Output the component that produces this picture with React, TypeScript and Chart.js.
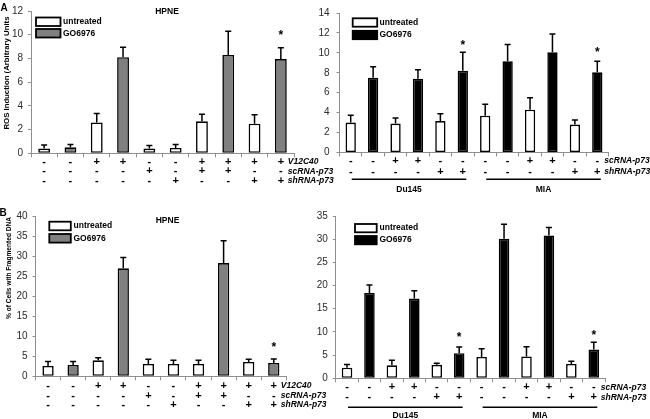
import React, { useEffect, useRef } from 'react';
import { Chart, registerables } from 'chart.js';

Chart.register(...registerables);

// ---------- Panel A (left): HPNE, ROS induction ----------
const hpneTreatment = ['untreated', 'GO6976', 'untreated', 'GO6976', 'untreated', 'untreated', 'untreated', 'GO6976', 'untreated', 'GO6976'];
const hpneRos = [0.4, 0.5, 2.6, 8.1, 0.4, 0.45, 2.7, 8.3, 2.5, 7.95];
const hpneRosErr = [0.3, 0.25, 0.75, 0.85, 0.25, 0.3, 0.6, 2.0, 0.75, 0.95];
const hpneRosStar: (number | null)[] = [null, null, null, null, null, null, null, null, null, 10.2];
const hpneV12C40 = ['-', '-', '+', '+', '-', '-', '+', '+', '+', '+'];
const hpneScRNA = ['-', '-', '-', '-', '+', '-', '+', '+', '-', '-'];
const hpneShRNA = ['-', '-', '-', '-', '-', '+', '-', '-', '+', '+'];

// ---------- Panel A (right): Du145 / MIA, ROS induction ----------
const cancerTreatment = ['untreated', 'GO6976', 'untreated', 'GO6976', 'untreated', 'GO6976', 'untreated', 'GO6976', 'untreated', 'GO6976', 'untreated', 'GO6976'];
const cancerRos = [3.0, 7.5, 2.9, 7.4, 3.15, 8.2, 3.7, 9.15, 4.3, 10.05, 2.8, 8.05];
const cancerRosErr = [0.75, 1.1, 0.55, 0.9, 0.75, 1.85, 1.15, 1.7, 1.2, 1.85, 0.45, 1.1];
const cancerRosStar: (number | null)[] = [null, null, null, null, null, 11.1, null, null, null, null, null, 10.4];
const cancerScRNA = ['-', '-', '+', '+', '-', '-', '-', '-', '+', '+', '-', '-'];
const cancerShRNA = ['-', '-', '-', '-', '+', '+', '-', '-', '-', '-', '+', '+'];
const cellLines = ['Du145', 'MIA'];
const cellLineFirst = [0, 6];
const cellLineLast = [5, 11];

// ---------- Panel B (left): HPNE, fragmented DNA ----------
const hpneDna = [2.6, 2.85, 4.0, 27.0, 3.1, 3.1, 3.1, 28.3, 3.6, 3.35];
const hpneDnaErr = [1.1, 0.85, 0.65, 2.7, 1.15, 0.9, 0.9, 5.6, 0.65, 1.0];
const hpneDnaStar: (number | null)[] = [null, null, null, null, null, null, null, null, null, 8.0];

// ---------- Panel B (right): Du145 / MIA, fragmented DNA ----------
const cancerDna = [2.3, 18.4, 2.8, 17.2, 2.9, 5.4, 4.6, 30.1, 4.7, 30.8, 3.1, 6.2];
const cancerDnaErr = [0.7, 1.7, 1.1, 1.7, 0.35, 1.35, 1.75, 3.1, 2.1, 1.7, 0.6, 1.6];
const cancerDnaStar: (number | null)[] = [null, null, null, null, null, 9.5, null, null, null, null, null, 10.0];

const FONT = '"Liberation Sans", Arial, sans-serif';
const AXIS = '#8f8f8f';

interface PanelSpec {
  left: number; top: number; width: number; height: number;
  area: { left: number; right: number; top: number; bottom: number };
  yMax: number; yStep: number; tickPad: number;
  values: number[]; errors: number[]; stars: (number | null)[];
  treatment: string[]; goColor: string; barPct: number;
  rows: { label: string; signs: string[]; dy: number }[];
  groups?: { label: string; from: number; to: number }[];
  groupLineDy?: number; groupLabelDy?: number;
  legend: { x: number; y1: number; y2: number; w: number; h: number; tx: number };
  letter?: { text: string; x: number; y: number };
  title?: { text: string; x: number; y: number };
  axisTitle?: { text: string; x: number; y: number; size: number; len: number };
}

const bold = (px: number) => `bold ${px}px ${FONT}`;

function decor(s: PanelSpec) {
  return {
    id: 'decor',
    afterDatasetsDraw(chart: any) {
      const ctx = chart.ctx as CanvasRenderingContext2D;
      const ys = chart.scales.y;
      ctx.save();
      ctx.strokeStyle = '#000';
      ctx.lineWidth = 1.5;
      chart.data.datasets.forEach((ds: any, di: number) => {
        const meta = chart.getDatasetMeta(di);
        ds.data.forEach((v: number | null, i: number) => {
          if (v == null) return;
          const el = meta.data[i];
          const top = ys.getPixelForValue(v + s.errors[i]);
          ctx.beginPath();
          ctx.moveTo(el.x, el.y);
          ctx.lineTo(el.x, top);
          ctx.moveTo(el.x - 3, top);
          ctx.lineTo(el.x + 3, top);
          ctx.stroke();
        });
      });
      ctx.restore();
    },
    afterDraw(chart: any) {
      const ctx = chart.ctx as CanvasRenderingContext2D;
      const area = chart.chartArea;
      const xs = chart.scales.x;
      const ys = chart.scales.y;
      ctx.save();
      ctx.fillStyle = '#000';
      ctx.textBaseline = 'middle';
      if (s.letter) {
        ctx.font = bold(10);
        ctx.textAlign = 'center';
        ctx.fillText(s.letter.text, s.letter.x, s.letter.y);
      }
      if (s.title) {
        ctx.font = bold(8.5);
        ctx.textAlign = 'center';
        ctx.fillText(s.title.text, s.title.x, s.title.y);
      }
      if (s.axisTitle) {
        const t = s.axisTitle;
        ctx.save();
        ctx.translate(t.x, t.y);
        ctx.rotate(-Math.PI / 2);
        ctx.font = bold(t.size);
        const w = ctx.measureText(t.text).width;
        ctx.scale(t.len / w, 1);
        ctx.textAlign = 'center';
        ctx.fillText(t.text, 0, 0);
        ctx.restore();
      }
      // legend
      const L = s.legend;
      chart.data.datasets.forEach((ds: any, di: number) => {
        const by = di === 0 ? L.y1 : L.y2;
        ctx.fillStyle = ds.backgroundColor;
        ctx.fillRect(L.x, by, L.w, L.h);
        ctx.strokeStyle = '#000';
        ctx.lineWidth = 1.8;
        ctx.strokeRect(L.x, by, L.w, L.h);
        ctx.fillStyle = '#000';
        ctx.font = bold(8.5);
        ctx.textAlign = 'left';
        ctx.fillText(ds.label, L.tx, by + L.h / 2);
      });
      // sign table
      const n = s.values.length;
      s.rows.forEach((r) => {
        const yy = area.bottom + r.dy;
        ctx.font = bold(11);
        ctx.textAlign = 'center';
        r.signs.forEach((sg, i) => ctx.fillText(sg, xs.getPixelForValue(i), yy));
        ctx.font = `italic bold 8.5px ${FONT}`;
        ctx.textAlign = 'left';
        ctx.fillText(r.label, xs.getPixelForValue(n - 1) + 7, yy);
      });
      // cell-line groups
      if (s.groups) {
        s.groups.forEach((g) => {
          const x1 = xs.getPixelForValue(g.from) + 1;
          const x2 = xs.getPixelForValue(g.to) + 3.5;
          const ly = area.bottom + (s.groupLineDy || 0);
          ctx.strokeStyle = '#000';
          ctx.lineWidth = 1.4;
          ctx.beginPath();
          ctx.moveTo(x1, ly);
          ctx.lineTo(x2, ly);
          ctx.stroke();
          ctx.font = bold(8.5);
          ctx.textAlign = 'center';
          ctx.fillText(g.label, (x1 + x2) / 2, area.bottom + (s.groupLabelDy || 0));
        });
      }
      // significance marks
      ctx.font = bold(12);
      ctx.textAlign = 'center';
      ctx.textBaseline = 'alphabetic';
      s.stars.forEach((v, i) => {
        if (v == null) return;
        ctx.fillText('*', xs.getPixelForValue(i), ys.getPixelForValue(v) + 7);
      });
      ctx.restore();
    },
  };
}

function Panel({ spec }: { spec: PanelSpec }) {
  const ref = useRef<HTMLCanvasElement>(null);
  useEffect(() => {
    const s = spec;
    const canvas = ref.current as HTMLCanvasElement;
    const labels = s.values.map((_, i) => String(i + 1));
    const untreated = s.values.map((v, i) => (s.treatment[i] === 'untreated' ? v : null));
    const treated = s.values.map((v, i) => (s.treatment[i] === 'GO6976' ? v : null));
    const common = {
      borderColor: '#000',
      borderWidth: 1.6,
      borderSkipped: false,
      grouped: false,
      categoryPercentage: 1,
      barPercentage: s.barPct,
    };
    const yWidth = s.area.left;
    const chart = new Chart(canvas, {
      type: 'bar',
      data: {
        labels,
        datasets: [
          { label: 'untreated', data: untreated, backgroundColor: '#ffffff', ...common } as any,
          { label: 'GO6976', data: treated, backgroundColor: s.goColor, ...common } as any,
        ],
      },
      options: {
        responsive: false,
        maintainAspectRatio: false,
        animation: false,
        devicePixelRatio: 1,
        layout: {
          padding: {
            left: 0,
            top: s.area.top,
            right: s.width - s.area.right,
            bottom: s.height - s.area.bottom - 4,
          },
        },
        plugins: { legend: { display: false }, tooltip: { enabled: false }, title: { display: false } },
        scales: {
          x: {
            type: 'category',
            offset: true,
            grid: { display: true, drawOnChartArea: false, drawTicks: true, tickLength: 4, color: AXIS, offset: true },
            border: { display: true, color: AXIS, width: 1 },
            ticks: { display: false },
            afterFit: (sc: any) => { sc.height = 4; },
          },
          y: {
            min: 0,
            max: s.yMax,
            grid: { display: true, drawOnChartArea: false, drawTicks: true, tickLength: 3, color: AXIS },
            border: { display: true, color: AXIS, width: 1 },
            ticks: { stepSize: s.yStep, padding: s.tickPad, color: '#2a2a2a', font: { family: FONT, size: 10 } },
            afterFit: (sc: any) => { sc.width = yWidth; },
          },
        },
      } as any,
      plugins: [decor(s)],
    });
    return () => chart.destroy();
  }, [spec]);
  return (
    <canvas
      ref={ref}
      width={spec.width}
      height={spec.height}
      style={{ position: 'absolute', left: spec.left, top: spec.top, width: spec.width, height: spec.height }}
    />
  );
}

const panels: PanelSpec[] = [
  {
    left: 0, top: 0, width: 360, height: 205,
    area: { left: 31, right: 294, top: 5.7, bottom: 153.3 },
    yMax: 12, yStep: 2, tickPad: 5,
    values: hpneRos, errors: hpneRosErr, stars: hpneRosStar,
    treatment: hpneTreatment, goColor: '#808080', barPct: 0.45,
    rows: [
      { label: 'V12C40', signs: hpneV12C40, dy: 8.7 },
      { label: 'scRNA-p73', signs: hpneScRNA, dy: 17.9 },
      { label: 'shRNA-p73', signs: hpneShRNA, dy: 27.7 },
    ],
    legend: { x: 36, y1: 17.5, y2: 29, w: 24.5, h: 8.5, tx: 63 },
    letter: { text: 'A', x: 4, y: 8 },
    title: { text: 'HPNE', x: 167, y: 11.5 },
    axisTitle: { text: 'ROS Induction (Arbitrary Units', x: 6.5, y: 73, size: 8, len: 113 },
  },
  {
    left: 300, top: 0, width: 350, height: 205,
    area: { left: 39.5, right: 308.5, top: 6, bottom: 152.5 },
    yMax: 14, yStep: 2, tickPad: 7,
    values: cancerRos, errors: cancerRosErr, stars: cancerRosStar,
    treatment: cancerTreatment, goColor: '#000000', barPct: 0.46,
    rows: [
      { label: 'scRNA-p73', signs: cancerScRNA, dy: 8.2 },
      { label: 'shRNA-p73', signs: cancerShRNA, dy: 19.2 },
    ],
    groups: cellLines.map((c, i) => ({ label: c, from: cellLineFirst[i], to: cellLineLast[i] })),
    groupLineDy: 26.8, groupLabelDy: 37.5,
    legend: { x: 52.7, y1: 18.3, y2: 30.8, w: 24.5, h: 8.4, tx: 79.5 },
  },
  {
    left: 0, top: 205, width: 360, height: 214,
    area: { left: 35.5, right: 286.3, top: 11.3, bottom: 171.3 },
    yMax: 40, yStep: 5, tickPad: 5,
    values: hpneDna, errors: hpneDnaErr, stars: hpneDnaStar,
    treatment: hpneTreatment, goColor: '#808080', barPct: 0.45,
    rows: [
      { label: 'V12C40', signs: hpneV12C40, dy: 9.7 },
      { label: 'scRNA-p73', signs: hpneScRNA, dy: 19.4 },
      { label: 'shRNA-p73', signs: hpneShRNA, dy: 28.7 },
    ],
    legend: { x: 49.3, y1: 16.7, y2: 29, w: 21.5, h: 8.6, tx: 73.5 },
    letter: { text: 'B', x: 3, y: 8.5 },
    title: { text: 'HPNE', x: 167.5, y: 15.5 },
    axisTitle: { text: '% of Cells with Fragmented DNA', x: 9, y: 63, size: 8, len: 102 },
  },
  {
    left: 300, top: 205, width: 350, height: 214,
    area: { left: 35.8, right: 305, top: 6.7, bottom: 173.3 },
    yMax: 35, yStep: 5, tickPad: 5,
    values: cancerDna, errors: cancerDnaErr, stars: cancerDnaStar,
    treatment: cancerTreatment, goColor: '#000000', barPct: 0.47,
    rows: [
      { label: 'scRNA-p73', signs: cancerScRNA, dy: 9 },
      { label: 'shRNA-p73', signs: cancerShRNA, dy: 19 },
    ],
    groups: cellLines.map((c, i) => ({ label: c, from: cellLineFirst[i], to: cellLineLast[i] })),
    groupLineDy: 29, groupLabelDy: 37.5,
    legend: { x: 55, y1: 19, y2: 31, w: 21.7, h: 8.3, tx: 79.5 },
  },
];

export default function App() {
  return (
    <div style={{ position: 'absolute', left: 0, top: 0, width: 650, height: 419, background: '#ffffff', overflow: 'hidden' }}>
      {panels.map((p, i) => (
        <Panel key={i} spec={p} />
      ))}
    </div>
  );
}
